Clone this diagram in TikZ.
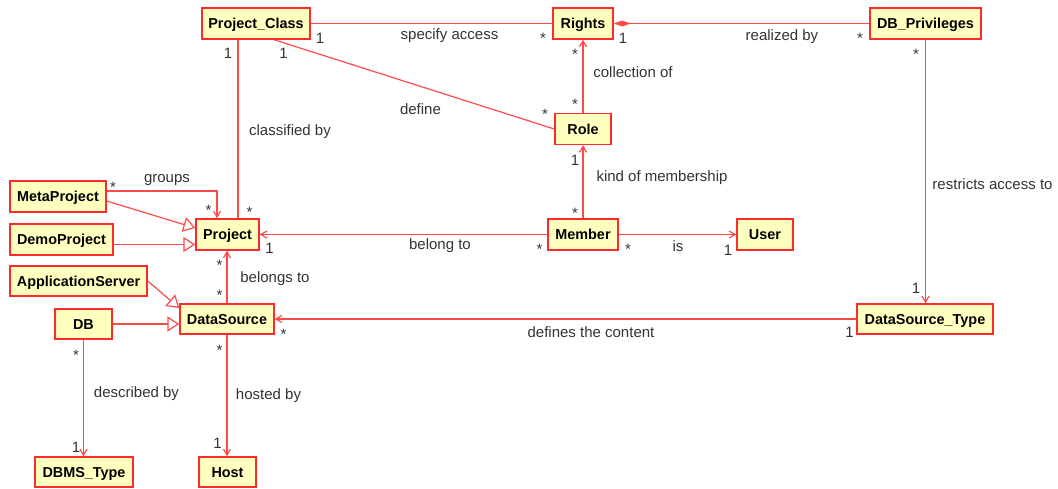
\documentclass[tikz,border=0pt]{standalone}
\usepackage{fontspec}
\setmainfont{Liberation Sans}
\usetikzlibrary{arrows.meta}
\definecolor{umlred}{HTML}{FF2A2A}
\definecolor{umlfill}{HTML}{FFFFC0}
\definecolor{linered}{HTML}{FF4A4A}
\definecolor{labelgray}{HTML}{333333}
\begin{document}
\begin{tikzpicture}[x=1pt,y=-1pt,
  cls/.style={draw=umlred, fill=umlfill, line width=1.4pt, inner sep=0pt,
    font=\fontsize{14.4}{16}\selectfont\bfseries, minimum height=31pt,
    text height=10.3pt, text depth=0pt},
  lbl/.style={font=\fontsize{15}{17}\selectfont, text=labelgray, inner sep=0pt},
  mult/.style={lbl},
  assoc/.style={draw=linered, line width=1.2pt},
  nav/.style={assoc, -{Straight Barb[length=6pt,width=7pt]}},
  gen/.style={assoc, -{Triangle[open,length=12pt,width=15pt,fill=white]}},
  comp/.style={assoc, -{Diamond[length=17pt,width=6pt,fill=linered]}}
]
\useasboundingbox (0,0) rectangle (1058,488);

% classes
\node[cls, minimum width=108pt] (pc)   at (256,23.5)  {Project\_Class};
\node[cls, minimum width=60pt]  (rights) at (583,23.5) {Rights};
\node[cls, minimum width=111pt] (dbp)  at (925.5,23.5) {DB\_Privileges};
\node[cls, minimum width=56pt]  (role) at (583,129)    {Role};
\node[cls, minimum width=70pt]  (member) at (583,234.5) {Member};
\node[cls, minimum width=56pt]  (user) at (765,234.5)  {User};
\node[cls, minimum width=63pt]  (proj) at (227.5,234.5) {Project};
\node[cls, minimum width=96pt]  (meta) at (58,196.5)   {MetaProject};
\node[cls, minimum width=103pt] (demo) at (61.5,239.5) {DemoProject};
\node[cls, minimum width=137pt, minimum height=30pt] (appsrv) at (78.5,281) {ApplicationServer};
\node[cls, minimum width=57pt, minimum height=30pt]  (db)   at (83.5,324)  {DB};
\node[cls, minimum width=94pt, minimum height=30pt]  (ds)   at (227,319)   {DataSource};
\node[cls, minimum width=136pt, minimum height=30pt] (dst)  at (925,319)   {DataSource\_Type};
\node[cls, minimum width=98pt, minimum height=30pt]  (dbms) at (84,472)    {DBMS\_Type};
\node[cls, minimum width=57pt, minimum height=30pt]  (host) at (227.5,472) {Host};

% associations
\draw[assoc] (pc) -- (rights);
\draw[comp] (dbp) -- (rights);
\draw[nav] (role) -- (rights);
\draw[nav] (member) -- (role);
\draw[assoc] ([xshift=18pt]pc.south) -- (role.west);
\draw[assoc] ([xshift=-18pt]pc.south) -- ([xshift=-18pt]pc.south |- proj.north);
\draw[nav] ([yshift=5.5pt]meta.east) -| ([xshift=-10.5pt]proj.north);
\draw[nav] (member.west) -- (proj.east);
\draw[nav] (member) -- (user);
\draw[nav] (ds.north) -- (ds.north |- proj.south);
\draw[nav] (dst.west) -- (ds.east);
\draw[nav] (dbp.south) -- (dbp.south |- dst.north);
\draw[nav] (db.south) -- (db.south |- dbms.north);
\draw[nav] (ds.south) -- (ds.south |- host.north);

% generalizations
\draw[gen] ([yshift=-4.5pt]meta.east) -- ([yshift=6.5pt]proj.west);
\draw[gen] ([yshift=-5pt]demo.east) -- ([yshift=-5pt]demo.east -| proj.west);
\draw[gen] (appsrv.east) -- ([yshift=11pt]ds.west);
\draw[gen] (db.east) -- (db.east -| ds.west);

% role names and multiplicities
\node[mult] (m1)  at (320,38)    {1};
\node[lbl]  (t1)  at (449.5,36)  {specify access};
\node[mult] (m2)  at (543,38)    {*};
\node[mult] (m3)  at (623,38)    {1};
\node[lbl]  (t2)  at (782,36.5)  {realized by};
\node[mult] (m4)  at (860,38)    {*};
\node[mult] (m5)  at (575,54.5)  {*};
\node[lbl]  (t3)  at (633,72)    {collection of};
\node[mult] (m6)  at (575,104)   {*};
\node[mult] (m7)  at (575,160)   {1};
\node[lbl]  (t4)  at (662,178)   {kind of membership};
\node[mult] (m8)  at (575,213.5) {*};
\node[mult] (m9)  at (283.5,53.5) {1};
\node[lbl]  (t5)  at (420.5,109.5) {define};
\node[mult] (m10) at (545,114)   {*};
\node[mult] (m11) at (228,53.5)  {1};
\node[lbl]  (t6)  at (290,131.5) {classified by};
\node[mult] (m12) at (249.5,212) {*};
\node[mult] (m13) at (113,187)   {*};
\node[lbl]  (t7)  at (167,180)   {groups};
\node[mult] (m14) at (208.5,210.5) {*};
\node[mult] (m15) at (269.5,248.5) {1};
\node[lbl]  (t8)  at (440,246)   {belong to};
\node[mult] (m16) at (539.5,249.5) {*};
\node[mult] (m17) at (628,249.5) {*};
\node[lbl]  (t9)  at (678,246)   {is};
\node[mult] (m18) at (728,250)   {1};
\node[mult] (m19) at (219.5,265.5) {*};
\node[lbl]  (t10) at (275,278.5) {belongs to};
\node[mult] (m20) at (219.5,295.5) {*};
\node[mult] (m21) at (283.5,334.5) {*};
\node[lbl]  (t11) at (591,332)   {defines the content};
\node[mult] (m22) at (849.5,332.5) {1};
\node[mult] (m23) at (916,54.5)  {*};
\node[lbl]  (t12) at (992.5,184.5) {restricts access to};
\node[mult] (m24) at (916,288.5) {1};
\node[mult] (m25) at (76,355.5)  {*};
\node[lbl]  (t13) at (136.5,393.5) {described by};
\node[mult] (m26) at (76,447)    {1};
\node[mult] (m27) at (219.5,350.5) {*};
\node[lbl]  (t14) at (268.5,396) {hosted by};
\node[mult] (m28) at (217.5,443) {1};
\end{tikzpicture}
\end{document}
